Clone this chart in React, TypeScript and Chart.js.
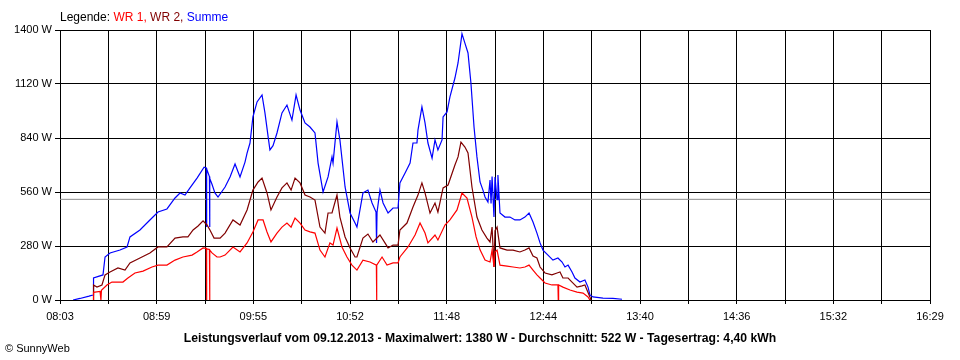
import { useEffect, useRef } from "react";
import { Chart, registerables } from "chart.js";

Chart.register(...registerables);

// x values: minutes after 08:03
const X_SPAN = 506;
const X_DIVISIONS = 18;
const X_TICK_LABELS = ["08:03", "08:59", "09:55", "10:52", "11:48", "12:44", "13:40", "14:36", "15:32", "16:29"];
const Y_MAX = 1400;
const Y_STEP = 280;
const AVERAGE = 522;

const LEGEND_PARTS: [string, string][] = [
  ["Legende: ", "#000000"],
  ["WR 1, ", "#ff0000"],
  ["WR 2, ", "#800000"],
  ["Summe", "#0000ff"],
];
const TITLE = "Leistungsverlauf vom 09.12.2013 - Maximalwert: 1380 W - Durchschnitt: 522 W - Tagesertrag: 4,40 kWh";
const COPYRIGHT = "© SunnyWeb";

const wr1Times = [19.2, 19.5, 23.3, 23.8, 24.1, 27.3, 30.2, 33.7, 36.6, 39.5, 43.6, 48.3, 53.5, 57.0, 62.2, 66.9, 71.5, 76.8, 79.7, 83.2, 85.1, 85.2, 85.4, 86.9, 87.0, 87.2, 88.4, 91.3, 93.1, 96.0, 100.6, 104.7, 108.8, 112.2, 115.2, 118.1, 120.4, 122.7, 126.2, 129.1, 132.0, 134.4, 136.7, 139.6, 142.5, 145.4, 148.3, 151.2, 154.1, 157.0, 158.8, 161.1, 164.0, 166.9, 169.8, 172.7, 176.2, 180.3, 184.0, 184.1, 184.3, 187.3, 190.2, 193.7, 196.6, 197.7, 202.4, 206.5, 209.4, 212.3, 214.0, 218.1, 219.8, 223.9, 226.8, 230.9, 233.8, 236.7, 239.6, 242.0, 244.3, 247.2, 250.1, 251.3, 252.4, 253.0, 254.2, 255.9, 260.0, 263.5, 267.5, 270.4, 272.8, 275.1, 277.4, 279.2, 282.1, 286.1, 289.6, 289.8, 290.0, 292.5, 296.6, 300.7, 304.2, 307.1, 308.2];
const wr1Values = [0, 40, 45, 0, 50, 78, 93, 93, 93, 114, 140, 150, 171, 181, 181, 207, 223, 233, 249, 270, 268, 0, 265, 262, 0, 258, 244, 223, 223, 233, 275, 249, 296, 353, 415, 415, 353, 301, 347, 378, 399, 378, 425, 399, 363, 353, 347, 259, 223, 296, 285, 373, 275, 223, 181, 155, 207, 197, 181, 0, 181, 223, 181, 192, 192, 223, 275, 337, 399, 347, 296, 337, 311, 389, 415, 467, 555, 529, 430, 327, 260, 207, 197, 259, 171, 250, 259, 181, 176, 171, 166, 171, 181, 155, 130, 114, 88, 78, 78, 0, 78, 67, 52, 41, 36, 16, 0];

const wr2Times = [19.2, 19.5, 21.5, 24.4, 26.2, 29.1, 33.7, 37.8, 40.7, 46.5, 52.3, 57.0, 62.2, 66.9, 71.5, 74.4, 77.4, 80.3, 83.2, 85.5, 87.2, 89.6, 93.1, 96.0, 100.6, 104.7, 108.8, 112.2, 115.2, 117.5, 120.4, 122.7, 126.2, 129.1, 132.0, 134.4, 136.7, 139.6, 142.5, 145.4, 148.3, 151.2, 154.1, 155.9, 158.2, 161.1, 162.8, 165.8, 168.7, 171.6, 172.7, 176.2, 179.1, 182.0, 186.1, 189.0, 190.8, 193.7, 196.6, 197.7, 201.8, 205.3, 208.2, 210.5, 212.3, 215.2, 218.1, 219.8, 222.8, 225.7, 229.7, 231.5, 233.2, 235.5, 237.3, 239.6, 242.5, 245.4, 248.3, 250.1, 251.3, 252.4, 253.0, 254.2, 255.9, 260.0, 263.5, 267.5, 270.4, 272.8, 275.1, 277.4, 279.2, 282.1, 286.1, 289.1, 290.8, 292.5, 295.5, 297.8, 300.7, 303.6, 305.3, 306.5, 308.2, 308.8];
const wr2Values = [0, 78, 67, 78, 130, 145, 166, 155, 192, 218, 244, 275, 275, 321, 327, 327, 363, 384, 410, 389, 363, 321, 321, 347, 415, 389, 467, 570, 612, 632, 555, 467, 534, 581, 607, 570, 632, 607, 544, 534, 518, 378, 347, 451, 451, 544, 430, 327, 270, 223, 223, 321, 342, 301, 337, 296, 270, 285, 285, 363, 399, 482, 544, 607, 555, 451, 503, 456, 581, 596, 700, 742, 819, 793, 762, 586, 430, 363, 321, 301, 378, 171, 360, 378, 270, 259, 259, 249, 259, 270, 228, 218, 171, 140, 130, 140, 145, 114, 114, 93, 67, 73, 78, 52, 16, 0];

const sumTimes = [7.6, 11.6, 16.9, 19.2, 19.5, 25.0, 26.2, 29.1, 34.9, 39.0, 40.7, 46.5, 52.3, 57.0, 62.2, 66.9, 69.8, 72.7, 75.6, 79.7, 83.8, 85.1, 85.2, 85.4, 86.9, 87.0, 87.2, 88.4, 90.1, 91.9, 96.0, 98.9, 101.8, 104.7, 107.6, 108.8, 110.5, 112.2, 114.6, 117.5, 119.2, 121.0, 122.1, 123.9, 126.2, 129.1, 132.0, 134.9, 137.3, 139.6, 142.5, 145.4, 148.3, 150.1, 153.0, 155.9, 158.2, 158.8, 161.1, 162.8, 165.8, 168.7, 171.6, 172.7, 176.2, 179.1, 181.5, 183.8, 184.1, 184.4, 186.1, 187.9, 190.8, 193.7, 196.6, 197.7, 200.7, 203.6, 205.3, 207.6, 208.2, 210.5, 212.3, 214.0, 216.4, 218.1, 219.8, 222.2, 222.8, 225.1, 226.8, 229.7, 231.5, 233.8, 235.5, 237.3, 239.0, 240.8, 242.5, 244.3, 246.0, 247.2, 248.9, 250.1, 250.7, 251.3, 252.4, 253.0, 254.2, 254.7, 255.9, 258.8, 261.7, 264.6, 267.5, 270.4, 272.8, 275.1, 277.4, 279.2, 280.9, 283.8, 286.7, 289.6, 292.0, 293.7, 295.5, 297.8, 299.5, 302.4, 305.3, 307.1, 308.2, 310.0, 315.8, 321.6, 326.9];
const sumValues = [0, 8, 20, 26, 114, 130, 223, 244, 259, 275, 327, 363, 415, 456, 472, 529, 555, 544, 581, 632, 689, 685, 378, 680, 640, 378, 630, 600, 555, 534, 586, 638, 705, 638, 715, 762, 814, 949, 1027, 1063, 970, 850, 778, 800, 866, 970, 1011, 933, 1063, 985, 918, 897, 866, 710, 560, 638, 742, 710, 923, 830, 586, 451, 399, 378, 555, 570, 503, 456, 296, 456, 570, 503, 451, 477, 477, 607, 659, 710, 814, 814, 881, 1001, 918, 814, 736, 830, 778, 830, 949, 975, 1053, 1151, 1229, 1380, 1332, 1281, 1125, 897, 742, 612, 570, 534, 508, 622, 500, 640, 430, 638, 520, 648, 451, 430, 430, 415, 415, 430, 451, 404, 347, 296, 259, 233, 207, 218, 197, 171, 181, 145, 114, 93, 104, 67, 26, 16, 10, 8, 4];

const toPoints = (t: number[], v: number[]) => t.map((x, i) => ({ x, y: v[i] }));

const overlayPlugin = {
  id: "overlayTexts",
  afterDraw(chart: any) {
    const ctx = chart.ctx as CanvasRenderingContext2D;
    ctx.save();
    ctx.textBaseline = "alphabetic";
    ctx.textAlign = "left";
    ctx.font = "12px 'Liberation Sans', Arial, sans-serif";
    let x = 60;
    for (const [text, color] of LEGEND_PARTS) {
      ctx.fillStyle = color;
      ctx.fillText(text, x, 21);
      x += ctx.measureText(text).width;
    }
    ctx.fillStyle = "#000";
    ctx.font = "bold 12.2px 'Liberation Sans', Arial, sans-serif";
    ctx.textAlign = "center";
    ctx.fillText(TITLE, 480, 342);
    ctx.textAlign = "left";
    ctx.font = "11px 'Liberation Sans', Arial, sans-serif";
    ctx.fillText(COPYRIGHT, 5, 352);
    ctx.restore();
  },
};

export default function App() {
  const canvasRef = useRef<HTMLCanvasElement | null>(null);

  useEffect(() => {
    if (!canvasRef.current) return;
    Chart.defaults.font.family = "'Liberation Sans', Arial, sans-serif";
    const xTicks = Array.from({ length: X_DIVISIONS + 1 }, (_, k) => (k * X_SPAN) / X_DIVISIONS);
    const chart = new Chart(canvasRef.current, {
      type: "line",
      data: {
        datasets: [
          {
            label: "WR 1",
            data: toPoints(wr1Times, wr1Values),
            borderColor: "#ff0000",
            borderWidth: 1.2,
            pointRadius: 0,
            tension: 0,
            order: 1,
          },
          {
            label: "WR 2",
            data: toPoints(wr2Times, wr2Values),
            borderColor: "#800000",
            borderWidth: 1.2,
            pointRadius: 0,
            tension: 0,
            order: 2,
          },
          {
            label: "Summe",
            data: toPoints(sumTimes, sumValues),
            borderColor: "#0000ff",
            borderWidth: 1.2,
            pointRadius: 0,
            tension: 0,
            order: 3,
          },
          {
            label: "Durchschnitt",
            data: [
              { x: 0, y: AVERAGE },
              { x: X_SPAN, y: AVERAGE },
            ],
            borderColor: "#8c8c8c",
            borderWidth: 1,
            pointRadius: 0,
            order: 10,
          },
        ],
      },
      options: {
        responsive: false,
        animation: false,
        layout: { padding: { left: 0, top: 30, right: 30, bottom: 0 } },
        plugins: { legend: { display: false }, tooltip: { enabled: false }, title: { display: false } },
        scales: {
          x: {
            type: "linear",
            min: 0,
            max: X_SPAN,
            afterBuildTicks: (axis: any) => {
              axis.ticks = xTicks.map((v) => ({ value: v }));
            },
            afterFit: (axis: any) => {
              axis.height = 60;
            },
            ticks: {
              autoSkip: false,
              maxRotation: 0,
              minRotation: 0,
              padding: 6,
              color: "#000",
              font: { size: 11 },
              callback: (_v: any, index: number) => (index % 2 === 0 ? X_TICK_LABELS[index / 2] : ""),
            },
            grid: { color: "#000", lineWidth: 1, drawTicks: true, tickLength: 4, tickColor: "#000" },
            border: { display: true, color: "#000" },
          },
          y: {
            min: 0,
            max: Y_MAX,
            afterFit: (axis: any) => {
              axis.width = 60;
            },
            ticks: {
              stepSize: Y_STEP,
              padding: 3,
              color: "#000",
              font: { size: 11 },
              callback: (v: any) => `${v} W`,
            },
            grid: { color: "#000", lineWidth: 1, drawTicks: true, tickLength: 5, tickColor: "#000" },
            border: { display: true, color: "#000" },
          },
        },
      },
      plugins: [overlayPlugin],
    } as any);
    return () => chart.destroy();
  }, []);

  return (
    <div style={{ position: "absolute", left: 0, top: 0, width: 960, height: 360, background: "#fff" }}>
      <canvas ref={canvasRef} width={960} height={360} style={{ display: "block" }} />
    </div>
  );
}
